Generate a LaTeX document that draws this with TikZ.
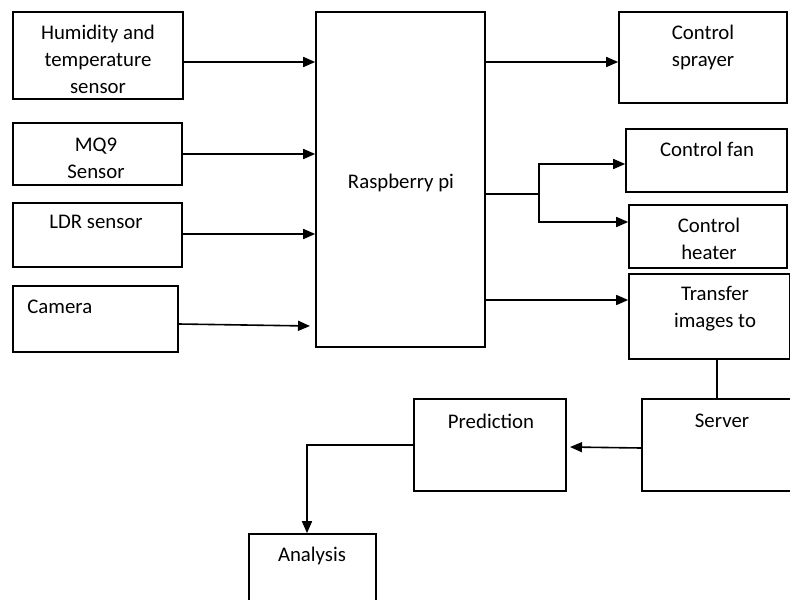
\documentclass[tikz,border=0pt]{standalone}
\usepackage{fontspec}
\setmainfont{Carlito}
\usetikzlibrary{arrows.meta,positioning,fit}

\tikzset{
  blk/.style={draw, line width=0.8pt, inner sep=0pt},
  txt/.style={align=center, inner sep=0pt, font=\fontsize{10.4}{13.5}\selectfont},
  arr/.style={line width=0.8pt, -{Triangle[length=6pt,width=5pt]}},
  ln/.style={line width=0.8pt}
}

\begin{document}
\begin{tikzpicture}[x=0.5pt, y=-0.5pt]
\useasboundingbox (0,0) rectangle (790,599);
% sensors
\node[blk, fit={(13,12) (183,99)}] (hum) {};
\node[blk, fit={(13,123) (182,185)}] (mq) {};
\node[blk, fit={(13,203) (182,267)}] (ldr) {};
\node[blk, fit={(13,286) (178,352)}] (cam) {};
\node[txt] at (98,59) {Humidity and\\temperature\\sensor};
\node[txt] at (96,158) {MQ9\\Sensor};
\node[txt] at (96,222) {LDR sensor};
\node[txt, anchor=west] at (27,307) {Camera};
% controller
\node[blk, fit={(316,12) (485,347)}] (pi) {};
\node[txt] at (401,183) {Raspberry pi};
% outputs
\node[blk, fit={(619,12) (787,103)}] (spray) {};
\node[blk, fit={(626,129) (787,192)}] (fan) {};
\node[blk, fit={(629,205) (787,268)}] (heat) {};
\node[blk, fit={(629,274) (790,359)}] (trans) {};
\node[txt] at (703,47) {Control\\sprayer};
\node[txt] at (707,149) {Control fan};
\node[txt] at (709,239) {Control\\heater};
\node[txt] at (715,309) {Transfer\\images to};
% server side
\node[blk, fit={(642,399) (800,491)}] (srv) {};
\node[blk, fit={(414,399) (566,491)}] (pred) {};
\node[blk, fit={(249,534) (376,610)}] (ana) {};
\node[txt] at (722,421) {Server};
\node[txt] at (491,421) {Prediction};
\node[txt] at (312,556) {Analysis};
% connectors
\draw[arr] (hum.east |- 0,62) -- (pi.west |- 0,62);
\draw[arr] (mq.east |- 0,154) -- (pi.west |- 0,154);
\draw[arr] (ldr.east |- 0,234) -- (pi.west |- 0,234);
\draw[arr] (cam.east |- 0,324) -- (310,326);
\draw[arr] (pi.east |- 0,62) -- (spray.west |- 0,62);
\draw[ln] (pi.east |- 0,194) -- (539,194);
\draw[arr] (539,194) |- (fan.west |- 0,164);
\draw[arr] (539,194) |- (heat.west |- 0,222);
\draw[arr] (pi.east |- 0,300) -- (trans.west |- 0,300);
\draw[ln] (trans.south -| 717,0) -- (srv.north -| 717,0);
\draw[arr] (srv.west |- 0,448) -- (570,447);
\draw[arr] (pred.west |- 0,445) -| (ana.north -| 307,0);
\end{tikzpicture}
\end{document}
